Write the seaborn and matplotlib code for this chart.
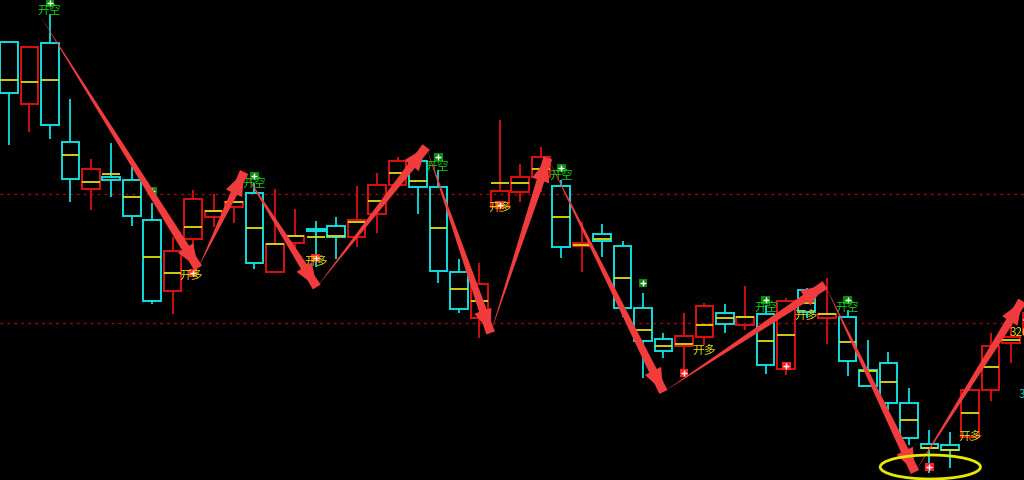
import matplotlib
matplotlib.use("Agg")
import matplotlib.pyplot as plt
from matplotlib.patches import Ellipse
import numpy as np
import pandas as pd
import seaborn as sns

# daily candles (index points)
opens = [3558, 3496, 3557, 3458, 3411, 3423, 3420, 3380, 3309, 3361,
         3383, 3393, 3407, 3328, 3357, 3371, 3374, 3363, 3386, 3415,
         3439, 3413, 3328, 3282, 3393, 3408, 3423, 3414, 3354, 3366,
         3354, 3292, 3261, 3254, 3263, 3287, 3275, 3286, 3231, 3310,
         3282, 3283, 3230, 3237, 3197, 3156, 3155, 3163, 3210, 3257, 3265]
highs = [3558, 3553, 3586, 3501, 3441, 3457, 3433, 3397, 3363, 3410,
         3406, 3398, 3417, 3411, 3391, 3379, 3383, 3414, 3427, 3443,
         3439, 3430, 3341, 3337, 3480, 3436, 3453, 3420, 3378, 3376,
         3359, 3307, 3267, 3287, 3297, 3296, 3314, 3295, 3302, 3312,
         3322, 3290, 3260, 3248, 3212, 3170, 3168, 3215, 3267, 3280, 3290]
lows = [3455, 3468, 3461, 3398, 3390, 3403, 3374, 3296, 3286, 3335,
        3373, 3377, 3331, 3328, 3350, 3333, 3341, 3353, 3367, 3415,
        3386, 3317, 3287, 3262, 3388, 3398, 3408, 3342, 3328, 3343,
        3283, 3222, 3242, 3228, 3255, 3267, 3270, 3226, 3225, 3282,
        3256, 3224, 3213, 3190, 3155, 3127, 3132, 3160, 3199, 3237, 3250]
closes = [3507, 3553, 3475, 3421, 3431, 3420, 3384, 3299, 3349, 3401,
          3389, 3398, 3337, 3356, 3364, 3369, 3363, 3380, 3415, 3439,
          3413, 3329, 3291, 3316, 3409, 3423, 3443, 3353, 3357, 3359,
          3292, 3259, 3249, 3264, 3294, 3276, 3283, 3235, 3299, 3288,
          3286, 3239, 3214, 3197, 3162, 3152, 3150, 3210, 3254, 3263, 3287]
mids = [3520, 3518, 3520, 3445, 3418, 3426, 3403, 3343, 3327, 3373,
        3389, 3398, 3372, 3356, 3364, 3363, 3364, 3378, 3399, 3427,
        3419, 3372, 3311, 3299, 3417, 3417, 3431, 3383, 3355, 3361,
        3322, 3270, 3254, 3256, 3275, 3282, 3283, 3259, 3265, 3297,
        3286, 3258, 3229, 3218, 3180, 3152, 3150, 3187, 3233, 3260, 3280]

# zigzag swing points (candle index, price)
swing_x = [1.5, 9.25, 11.5, 15.05, 20.4, 23.55, 26.35, 32.0, 39.9, 44.3, 49.55]
swing_y = [3585, 3332, 3428, 3313, 3453, 3267, 3442, 3208, 3315, 3128, 3299]

# signal labels
short_idx = [1.95, 12, 20.95, 27, 37, 41]
short_price = [3590, 3417, 3434, 3425, 3293, 3293]
long_idx = [8.9, 15, 24, 34, 39, 47]
long_price = [3324, 3338, 3392, 3249, 3284, 3163]
green_dot_idx = [2, 12, 21, 27, 37, 41, 31, 7]
green_dot_price = [3597, 3424, 3443, 3432, 3300, 3300, 3317, 3409]
red_dot_idx = [9, 15, 24, 33, 38, 45]
red_dot_price = [3327, 3342, 3395, 3227, 3234, 3133]

ref_levels = [3406, 3277]

UP, DOWN, MID = "#dc1010", "#10dede", "#dede10"
ARROW = "#f03c3c"

sns.set_theme(style="dark", rc={"axes.facecolor": "black", "figure.facecolor": "black"})
plt.rcParams["font.family"] = ["Noto Sans CJK SC", "DejaVu Sans"]

fig = plt.figure(figsize=(10.24, 4.8), dpi=100)
ax = fig.add_axes([0, 0, 1, 1])
ax.set_facecolor("black")

df = pd.DataFrame({"open": opens, "high": highs, "low": lows, "close": closes, "mid": mids})
df["x"] = np.arange(len(df))
df["top"] = df[["open", "close"]].max(axis=1)
df["bot"] = df[["open", "close"]].min(axis=1)
df["color"] = np.where(df["close"] >= df["open"], UP, DOWN)

for lvl in ref_levels:
    ax.axhline(lvl, color="#a80000", ls=(0, (2, 3)), lw=1, zorder=1)

w = 0.86
ax.vlines(df["x"], df["top"], df["high"], colors=df["color"], lw=1.3, zorder=2)
ax.vlines(df["x"], df["low"], df["bot"], colors=df["color"], lw=1.3, zorder=2)
ax.bar(df["x"], df["top"] - df["bot"], bottom=df["bot"], width=w, fill=False,
       edgecolor=df["color"], linewidth=1.4, zorder=3)
ax.hlines(df["mid"], df["x"] - w / 2, df["x"] + w / 2, colors=MID, lw=1.3, zorder=3)

# signal markers
sns.scatterplot(x=green_dot_idx, y=green_dot_price, marker="s", s=40, color="#0a8a0a",
                edgecolor="none", ax=ax, zorder=5)
sns.scatterplot(x=red_dot_idx, y=red_dot_price, marker="s", s=40, color="#ff2020",
                edgecolor="none", ax=ax, zorder=5)
ax.scatter(green_dot_idx + red_dot_idx, green_dot_price + red_dot_price, marker="+",
           s=14, color="white", lw=1, zorder=6)

for xi, yi in zip(short_idx, short_price):
    ax.text(xi, yi, "开空", color="#10d010", fontsize=8.5, ha="center", va="center", zorder=7)
for xi, yi in zip(long_idx, long_price):
    ax.text(xi, yi, "开多", color="#d8d810", fontsize=8.5, ha="center", va="center", zorder=7)

# zigzag arrows: tapered body (thin at start) + arrow head
for i in range(len(swing_x) - 1):
    x0, y0 = swing_x[i], swing_y[i]
    x1, y1 = swing_x[i + 1], swing_y[i + 1]
    ax.annotate("", xy=(x0, y0), xytext=(x1, y1),
                arrowprops=dict(arrowstyle="wedge,tail_width=0.33,shrink_factor=0.5",
                                fc=ARROW, ec="none", shrinkA=0, shrinkB=0,
                                mutation_scale=20),
                zorder=8)
    xm, ym = x1 - 0.4 * (x1 - x0), y1 - 0.4 * (y1 - y0)
    ax.annotate("", xy=(x1, y1), xytext=(xm, ym),
                arrowprops=dict(arrowstyle="simple,head_length=0.85,head_width=0.65,tail_width=0.05",
                                fc=ARROW, ec="none", shrinkA=0, shrinkB=0,
                                mutation_scale=20),
                zorder=8)

ax.add_patch(Ellipse((45.05, 3133), 4.9, 24, fill=False, ec="#e8e800", lw=2, zorder=9))

ax.text(48.95, 3267, "3267", color="#d8d810", fontsize=8.5, va="center", ha="left", zorder=7)
ax.text(49.35, 3205, "3205", color="#10c8c8", fontsize=8.5, va="center", ha="left", zorder=7)

ax.set_xlim(-0.44, 49.63)
ax.set_ylim(3120, 3600)
ax.axis("off")

fig.savefig("out.png", dpi=100, facecolor="black")
